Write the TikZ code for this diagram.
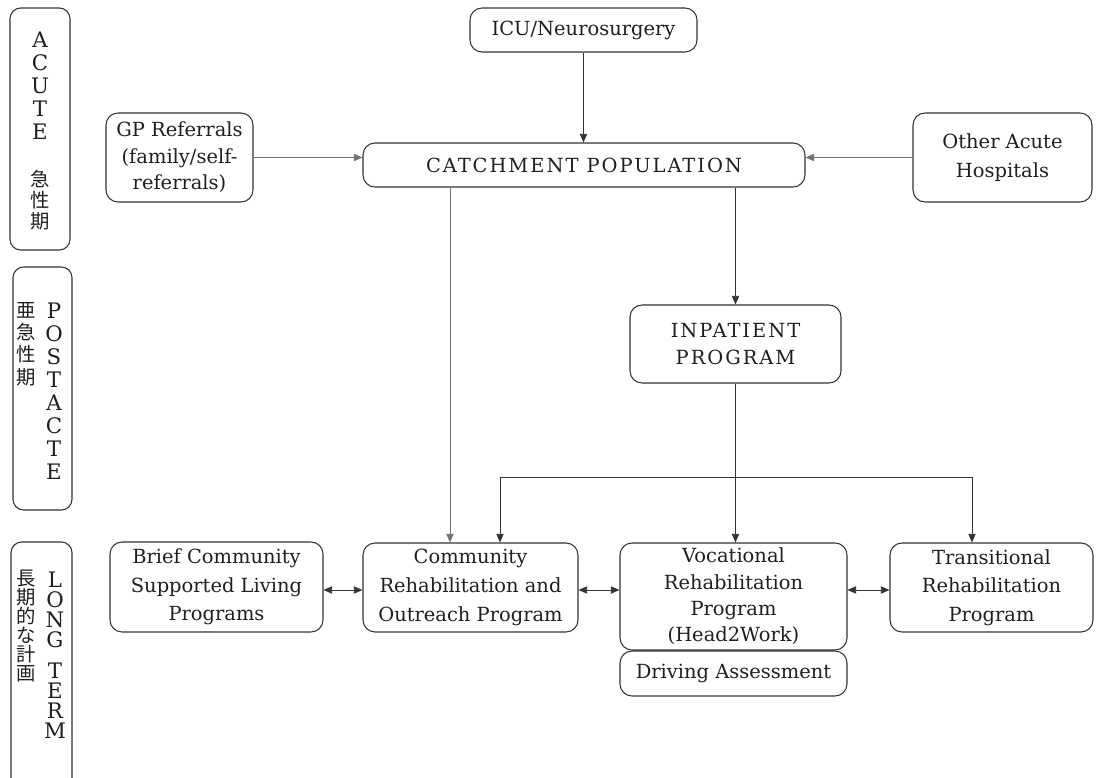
\documentclass[tikz,border=0pt]{standalone}
\usepackage{fontspec}
\setmainfont{DejaVu Serif}
\newfontfamily\capsfont{DejaVu Serif}[LetterSpace=10]
\newfontfamily\cjk{Noto Sans CJK JP}
\usetikzlibrary{arrows.meta}
\definecolor{ink}{gray}{0.12}
\definecolor{edge}{gray}{0.2}
\definecolor{wire}{gray}{0.45}
\begin{document}
\begin{tikzpicture}[x=0.75pt,y=-0.75pt,
  box/.style={draw=edge,line width=0.8pt,rounded corners=9pt,align=center,
    text=ink,inner sep=0pt,font=\fontsize{14.6pt}{21.5pt}\selectfont},
  tight/.style={font=\fontsize{14.6pt}{19.8pt}\selectfont},
  capsbox/.style={font=\capsfont\fontsize{14.6pt}{20.5pt}\selectfont},
  phase/.style={draw=edge,line width=0.8pt,rounded corners=8pt},
  lat/.style={align=center,text=ink,inner sep=0pt},
  arr/.style={draw=edge,line width=0.7pt,-{Triangle[length=6.5pt,width=5.5pt]}},
  darr/.style={draw=edge,line width=0.7pt,{Triangle[length=6.5pt,width=5.5pt]}-{Triangle[length=6.5pt,width=5.5pt]}},
  thin/.style={draw=wire,line width=0.6pt,-{Triangle[length=6.5pt,width=5.5pt]}}]
\useasboundingbox (0,0) rectangle (1101,778);
\clip (0,0) rectangle (1101,778);

% phase columns on the left
\draw[phase] (10,8) rectangle (70,250);
\draw[phase] (13,267) rectangle (72,510);
\draw[phase] (11,542) rectangle (72,820);

\node[lat,font=\fontsize{16pt}{17.25pt}\selectfont] (acuteL) at (40,86) {A\\C\\U\\T\\E};
\node[lat,font=\cjk\fontsize{14.5pt}{16pt}\selectfont] (acuteJ) at (40,200) {急\\性\\期};

\node[lat,font=\fontsize{16pt}{17.3pt}\selectfont] (postL) at (54,391) {P\\O\\S\\T\\A\\C\\T\\E};
\node[lat,font=\cjk\fontsize{14.5pt}{16.7pt}\selectfont] (postJ) at (26,344) {亜\\急\\性\\期};

\node[lat,font=\fontsize{16pt}{15pt}\selectfont] (longL) at (55,655) {L\\O\\N\\G\\[8.25pt]T\\E\\R\\M};
\node[lat,font=\cjk\fontsize{14.5pt}{14.25pt}\selectfont] (longJ) at (26,626) {長\\期\\的\\な\\計\\画};

% acute stage
\node[box,minimum width=170.25pt,minimum height=33pt] (icu) at (583.5,30) {ICU/Neurosurgery};
\node[box,tight,minimum width=110.25pt,minimum height=66.75pt] (gp) at (179.5,157.5)
  {GP Referrals\\(family/self-\\referrals)};
\node[box,capsbox,minimum width=331.5pt,minimum height=33pt] (catch) at (584,165) {CATCHMENT POPULATION};
\node[box,minimum width=134.25pt,minimum height=66.75pt] (other) at (1002.5,157.5)
  {Other Acute\\Hospitals};

% post-acute stage
\node[box,capsbox,minimum width=158.25pt,minimum height=58.5pt] (inp) at (735.5,344) {INPATIENT\\PROGRAM};

% long-term stage
\node[box,minimum width=159.75pt,minimum height=67.5pt] (brief) at (216.5,587)
  {Brief Community\\Supported Living\\Programs};
\node[box,minimum width=161.25pt,minimum height=66.75pt] (comm) at (470.5,587.5)
  {Community\\Rehabilitation and\\Outreach Program};
\node[box,tight,minimum width=170.25pt,minimum height=80.25pt] (voc) at (733.5,596.5)
  {Vocational\\Rehabilitation\\Program\\(Head2Work)};
\node[box,minimum width=170.25pt,minimum height=33.75pt] (drive) at (733.5,673.5) {Driving Assessment};
\node[box,minimum width=152.25pt,minimum height=66.75pt] (trans) at (991.5,587.5)
  {Transitional\\Rehabilitation\\Program};

% referral flows
\draw[arr] (icu.south) -- (icu.south |- catch.north);
\draw[thin] (gp.east) -- (gp.east -| catch.west);
\draw[thin] (other.west) -- (other.west -| catch.east);
\coordinate (cdown) at (450,0);
\draw[thin] (catch.south -| cdown) -- (comm.north -| cdown);
\draw[arr] (catch.south -| inp.north) -- (inp.north);
\draw[arr] (inp.south) -- (inp.south |- voc.north);

% inpatient discharge branch
\coordinate (bl) at (500,477);
\coordinate (br) at (972,477);
\draw[arr] (bl) -- (bl |- comm.north);
\draw[arr] (bl) -- (br) -- (br |- trans.north);

% links between long-term programs
\coordinate (row) at (0,590);
\draw[darr] (brief.east |- row) -- (comm.west |- row);
\draw[darr] (comm.east |- row) -- (voc.west |- row);
\draw[darr] (voc.east |- row) -- (trans.west |- row);
\end{tikzpicture}
\end{document}
